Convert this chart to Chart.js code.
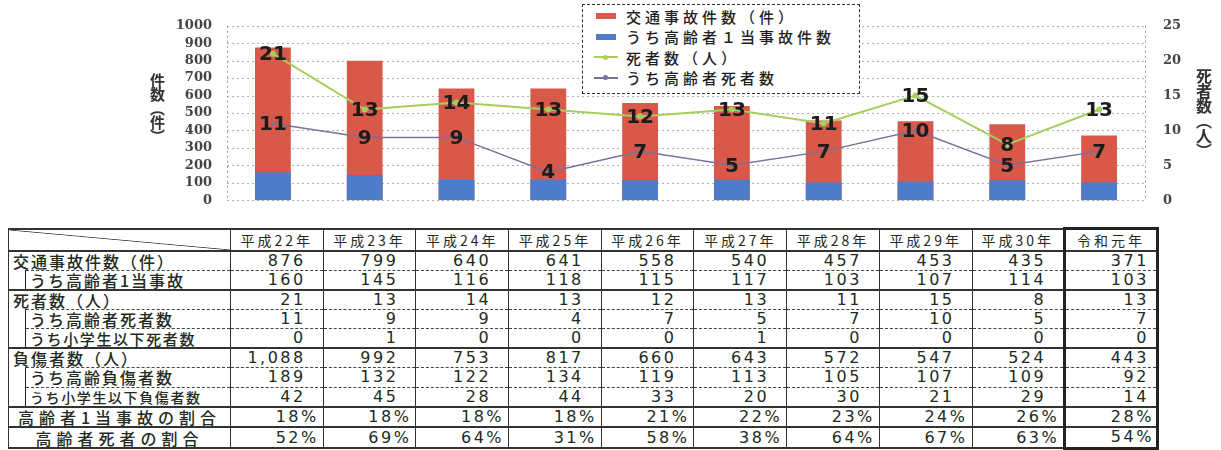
<!DOCTYPE html>
<html lang="ja">
<head>
<meta charset="utf-8">
<script src="https://cdn.jsdelivr.net/npm/chart.js@4.4.1/dist/chart.umd.min.js"></script>
<style>
  html,body{margin:0;padding:0;background:#fff;}
  #wrap{position:relative;width:1221px;height:450px;overflow:hidden;background:#fff;}
  #c{position:absolute;left:0;top:0;}
  .vt{position:absolute;writing-mode:vertical-rl;font-family:"Noto Sans CJK JP",sans-serif;font-weight:bold;color:#333;}
  #ytitle{left:147px;top:73px;font-size:15px;letter-spacing:-1px;}
  #y1title{left:1192px;top:68px;font-size:16px;letter-spacing:-1px;}
  #legend{position:absolute;left:582px;top:4px;width:278px;height:90px;border:1.5px dashed #333;background:#fff;box-sizing:border-box;padding-top:1px;
          font-family:"Noto Sans CJK JP",sans-serif;font-size:15px;letter-spacing:4px;color:#1e1e1e;font-weight:500;}
  #legend .it{height:20.5px;display:flex;align-items:center;}
  #legend .mk{width:26px;height:20px;margin-left:9px;margin-right:8px;position:relative;flex:none;}
  #legend .mk .bar{position:absolute;left:4px;right:2px;top:7px;height:6px;}
  #legend .mk .ln{position:absolute;left:2px;right:0;top:9px;height:2px;}
  #legend .mk .dot{position:absolute;left:11px;top:7.5px;width:5px;height:5px;border-radius:50%;}
  #tbl{position:absolute;left:8px;top:227px;border-collapse:collapse;table-layout:fixed;width:1149px;color:#222a22;font-family:"Noto Sans CJK JP",sans-serif;}
  #tbl td{border-left:1px solid #333;border-right:1px solid #333;border-top:1px dashed #444;border-bottom:1px dashed #444;padding:0;white-space:nowrap;overflow:hidden;line-height:1;vertical-align:middle;}
  #tbl tr.h td{border-top:2px solid #333;border-bottom:2px solid #333;text-align:center;font-size:14px;letter-spacing:3px;}
  #tbl tr.g td{border-top:2px solid #333;}
  #tbl tr.end td{border-bottom:2px solid #333;}
  #tbl td.diag{background:linear-gradient(to top right, transparent calc(50% - 0.8px), #444 50%, transparent calc(50% + 0.8px));}
  #tbl td.lab{text-align:left;padding-left:4px;font-size:16px;letter-spacing:2px;font-weight:500;}
  #tbl td.lab.s1{font-size:15px;letter-spacing:1.6px;}
  #tbl td.lab.s2{font-size:14px;letter-spacing:1.6px;}
  #tbl td.lab.ctr{text-align:center;padding-left:0;letter-spacing:5px;}
  #tbl td.par{border-bottom:none;}
  #tbl td.ind{border-top:none;border-bottom:none;border-right:1.5px solid #222;}
  #tbl td.n{text-align:right;font-family:"DejaVu Sans",sans-serif;font-size:16px;letter-spacing:2.5px;padding-right:17px;}
  #tbl td.n.p{padding-right:4px;}
  #tbl td.n.last{padding-right:7px;}
  #tbl td.n.p.last{padding-right:2px;}
  #tbl td.last{border-left:3px solid #222;border-right:3px solid #222;}
  #tbl tr.h td.last{border-top:3px solid #222;}
  #tbl tr.end td.last{border-bottom:3px solid #222;}
</style>
</head>
<body>
<div id="wrap">
  <canvas id="c" width="1221" height="226"></canvas>
  <div id="ytitle" class="vt">件数（件）</div>
  <div id="y1title" class="vt">死者数（人）</div>
  <div id="legend"></div>
  <table id="tbl"></table>
</div>
<script>
// ---- data ----
const years = ['平成22年','平成23年','平成24年','平成25年','平成26年','平成27年','平成28年','平成29年','平成30年','令和元年'];
const accidents        = [876, 799, 640, 641, 558, 540, 457, 453, 435, 371];
const elderlyAccidents = [160, 145, 116, 118, 115, 117, 103, 107, 114, 103];
const deaths           = [21, 13, 14, 13, 12, 13, 11, 15, 8, 13];
const elderlyDeaths    = [11, 9, 9, 4, 7, 5, 7, 10, 5, 7];
const childDeaths      = [0, 1, 0, 0, 0, 1, 0, 0, 0, 0];
const injured          = [1088, 992, 753, 817, 660, 643, 572, 547, 524, 443];
const elderlyInjured   = [189, 132, 122, 134, 119, 113, 105, 107, 109, 92];
const childInjured     = [42, 45, 28, 44, 33, 20, 30, 21, 29, 14];
const elderlyAccidentRatio = [18, 18, 18, 18, 21, 22, 23, 24, 26, 28];
const elderlyDeathRatio    = [52, 69, 64, 31, 58, 38, 64, 67, 63, 54];

const countTicks = [0, 100, 200, 300, 400, 500, 600, 700, 800, 900, 1000];
const deathTicks = [0, 5, 10, 15, 20, 25];

const seriesLabels = ['交通事故件数（件）', 'うち高齢者１当事故件数', '死者数（人）', 'うち高齢者死者数'];
const rowLabels = ['交通事故件数（件）', 'うち高齢者1当事故', '死者数（人）', 'うち高齢者死者数', 'うち小学生以下死者数',
                   '負傷者数（人）', 'うち高齢負傷者数', 'うち小学生以下負傷者数', '高齢者1当事故の割合', '高齢者死者の割合'];

// ---- chart ----
const colors = {red:'#d8584a', blue:'#4e7cc8', green:'#a5cf5e', purple:'#7a7099'};

const pointLabels = {
  id: 'pointLabels',
  afterDatasetsDraw(chart) {
    const ctx = chart.ctx;
    ctx.save();
    ctx.font = 'bold 20px "DejaVu Sans"';
    ctx.fillStyle = '#1c1c1c';
    ctx.textAlign = 'center';
    ctx.textBaseline = 'middle';
    chart.data.datasets.forEach((ds, i) => {
      if (ds.type !== 'line') return;
      const meta = chart.getDatasetMeta(i);
      meta.data.forEach((pt, j) => ctx.fillText(String(ds.data[j]), pt.x, pt.y + 1));
    });
    ctx.restore();
  }
};

// dotted horizontal guides and axis lines drawn through the scales
const dottedGrid = {
  id: 'dottedGrid',
  beforeDatasetsDraw(chart) {
    const {ctx, chartArea: a, scales} = chart;
    const y = scales.y, y1 = scales.y1;
    ctx.save();
    ctx.lineWidth = 1;
    ctx.setLineDash([2, 3]);
    ctx.strokeStyle = '#b0b0b0';
    countTicks.forEach(v => {
      const py = Math.round(y.getPixelForValue(v)) + 0.5;
      ctx.beginPath(); ctx.moveTo(a.left, py); ctx.lineTo(a.right, py); ctx.stroke();
    });
    ctx.strokeStyle = '#999';
    [a.left, a.right].forEach(px => {
      const x = Math.round(px) + 0.5;
      ctx.beginPath(); ctx.moveTo(x, y.getPixelForValue(1000)); ctx.lineTo(x, y1.getPixelForValue(0)); ctx.stroke();
    });
    ctx.restore();
  }
};

const tickFont = {family: 'DejaVu Serif', weight: 'bold', size: 13};

const chart = new Chart(document.getElementById('c'), {
  type: 'bar',
  data: {
    labels: years,
    datasets: [
      {type:'bar', label: seriesLabels[0], data: accidents, backgroundColor: colors.red, yAxisID:'y',
       grouped:false, order:4, barPercentage:0.39, categoryPercentage:1},
      {type:'bar', label: seriesLabels[1], data: elderlyAccidents, backgroundColor: colors.blue, yAxisID:'y',
       grouped:false, order:3, barPercentage:0.39, categoryPercentage:1},
      {type:'line', label: seriesLabels[2], data: deaths, borderColor: colors.green, backgroundColor: colors.green,
       borderWidth:2, pointRadius:3, pointBorderWidth:0, yAxisID:'y1', order:1, tension:0},
      {type:'line', label: seriesLabels[3], data: elderlyDeaths, borderColor: colors.purple, backgroundColor: colors.purple,
       borderWidth:1.5, pointRadius:2, pointBorderWidth:0, yAxisID:'y1', order:2, tension:0}
    ]
  },
  options: {
    responsive: false,
    animation: false,
    layout: {padding: {top: 14, bottom: 11, left: 0, right: 0}},
    plugins: {legend: {display: false}, tooltip: {enabled: false}},
    scales: {
      x: {display: false, offset: true},
      y: {
        position: 'left', min: 0, max: 1000,
        afterBuildTicks: s => { s.ticks = countTicks.map(v => ({value: v})); },
        afterFit: s => { s.width = 227; },
        ticks: {padding: 15, font: tickFont, color: '#444', autoSkip: false, callback: v => String(v)},
        grid: {display: false, drawTicks: false},
        border: {display: false}
      },
      y1: {
        position: 'right', min: 0, max: 25,
        afterBuildTicks: s => { s.ticks = deathTicks.map(v => ({value: v})); },
        afterFit: s => { s.width = 76; },
        ticks: {padding: 18, font: tickFont, color: '#444', autoSkip: false, callback: v => String(v)},
        grid: {display: false, drawTicks: false},
        border: {display: false}
      }
    }
  },
  plugins: [dottedGrid, pointLabels]
});

// ---- legend (HTML, from datasets) ----
const legend = document.getElementById('legend');
chart.data.datasets.forEach(ds => {
  const it = document.createElement('div');
  it.className = 'it';
  const mk = document.createElement('span');
  mk.className = 'mk';
  if (ds.type === 'bar') {
    mk.innerHTML = '<span class="bar" style="background:' + ds.backgroundColor + '"></span>';
  } else {
    mk.innerHTML = '<span class="ln" style="background:' + ds.borderColor + '"></span><span class="dot" style="background:' + ds.borderColor + '"></span>';
  }
  const tx = document.createElement('span');
  tx.textContent = ds.label;
  it.appendChild(mk); it.appendChild(tx);
  legend.appendChild(it);
});

// ---- table ----
const fmt = v => v.toLocaleString('en-US');
const pct = v => v + '%';
const rows = [
  {label: rowLabels[0], values: accidents, fmt: fmt, cls: 'g', kind: 'parent'},
  {label: rowLabels[1], values: elderlyAccidents, fmt: fmt, kind: 'sub', span: 1},
  {label: rowLabels[2], values: deaths, fmt: fmt, cls: 'g', kind: 'parent'},
  {label: rowLabels[3], values: elderlyDeaths, fmt: fmt, kind: 'sub', span: 2},
  {label: rowLabels[4], values: childDeaths, fmt: fmt, kind: 'sub2', size: 's1'},
  {label: rowLabels[5], values: injured, fmt: fmt, cls: 'g', kind: 'parent'},
  {label: rowLabels[6], values: elderlyInjured, fmt: fmt, kind: 'sub', span: 2},
  {label: rowLabels[7], values: childInjured, fmt: fmt, kind: 'sub2', size: 's2'},
  {label: rowLabels[8], values: elderlyAccidentRatio, fmt: pct, cls: 'g', kind: 'center', p: true},
  {label: rowLabels[9], values: elderlyDeathRatio, fmt: pct, cls: 'g end', kind: 'center', p: true}
];
const rowHeights = [19.5, 19.5, 19.5, 19.5, 19.5, 19.5, 19.5, 19.5, 20.5, 21];

const tbl = document.getElementById('tbl');
let html = '<colgroup><col style="width:17px"><col style="width:205px">' + years.map(() => '<col style="width:92.7px">').join('') + '</colgroup>';
html += '<tr class="h" style="height:22px"><td class="diag" colspan="2"></td>' +
        years.map((y, i) => '<td' + (i === years.length - 1 ? ' class="last"' : '') + '>' + y + '</td>').join('') + '</tr>';
rows.forEach((r, ri) => {
  html += '<tr class="' + (r.cls || '') + '" style="height:' + rowHeights[ri] + 'px">';
  if (r.kind === 'parent') {
    html += '<td class="lab par" colspan="2">' + r.label + '</td>';
  } else if (r.kind === 'sub') {
    html += '<td class="ind" rowspan="' + r.span + '"></td><td class="lab">' + r.label + '</td>';
  } else if (r.kind === 'sub2') {
    html += '<td class="lab ' + r.size + '">' + r.label + '</td>';
  } else {
    html += '<td class="lab ctr" colspan="2">' + r.label + '</td>';
  }
  html += r.values.map((v, i) => '<td class="n' + (r.p ? ' p' : '') + (i === r.values.length - 1 ? ' last' : '') + '">' + r.fmt(v) + '</td>').join('');
  html += '</tr>';
});
tbl.innerHTML = html;
</script>
</body>
</html>
